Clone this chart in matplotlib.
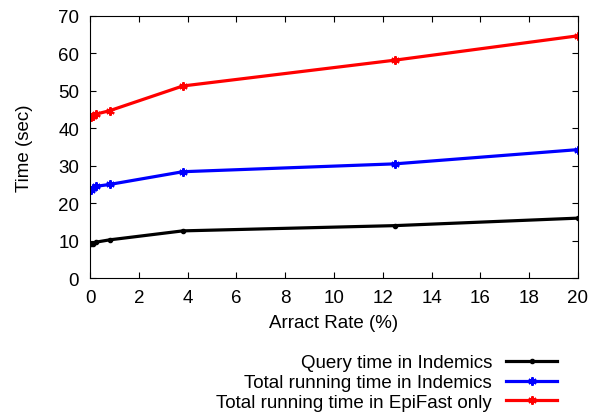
import matplotlib
matplotlib.use('Agg')
import matplotlib.pyplot as plt

plt.rcParams['font.family'] = ['Liberation Sans', 'DejaVu Sans']

# Data
attract_rate = [0.05, 0.1, 0.25, 0.8, 3.8, 12.5, 20]
query_time = [9.0, 9.2, 9.6, 10.2, 12.6, 14.0, 16.0]
total_indemics = [23.6, 24.0, 24.5, 25.0, 28.4, 30.5, 34.3]
total_epifast = [43.0, 43.2, 43.8, 44.7, 51.3, 58.2, 64.7]

labels = ['Query time in Indemics',
          'Total running time in Indemics',
          'Total running time in EpiFast only']

fig = plt.figure(figsize=(5.97, 4.14), dpi=100)
ax = fig.add_axes([0.151, 0.326, 0.817, 0.633])

star = (6, 2, 0)
ax.plot(attract_rate, query_time, color='black', linewidth=2.3,
        marker='.', markersize=6, label=labels[0])
ax.plot(attract_rate, total_indemics, color='blue', linewidth=2.3,
        marker=star, markersize=6, markeredgewidth=1.5, label=labels[1])
ax.plot(attract_rate, total_epifast, color='red', linewidth=2.3,
        marker=star, markersize=6, markeredgewidth=1.5, label=labels[2])

ax.set_xlim(0, 20)
ax.set_ylim(0, 70)
ax.set_xticks(range(0, 21, 2))
ax.set_yticks(range(0, 71, 10))
ax.tick_params(direction='in', top=True, right=True, labelsize=13.5,
               length=4, pad=8)
ax.set_xlabel('Arract Rate (%)', fontsize=13.5, labelpad=6)
ax.set_ylabel('Time (sec)', fontsize=13.5, labelpad=18)

ax.legend(loc='upper right', bbox_to_anchor=(0.957, -0.29), frameon=False,
          markerfirst=False, fontsize=13.5, handlelength=2.7,
          labelspacing=0.15, borderaxespad=0, borderpad=0,
          handletextpad=0.75)

fig.savefig('out.png', dpi=100)
